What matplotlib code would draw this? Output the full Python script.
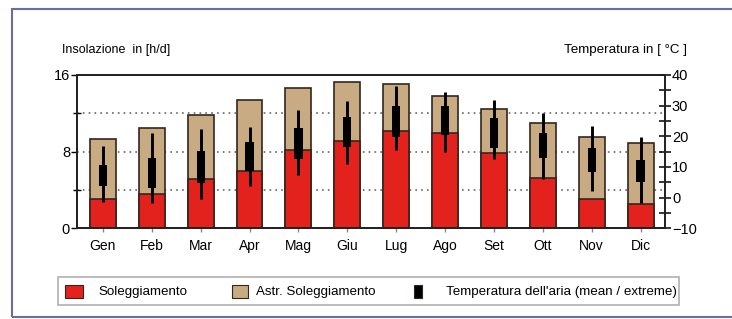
import matplotlib
matplotlib.use("Agg")
import matplotlib.pyplot as plt
from matplotlib.patches import Rectangle
import numpy as np

plt.rcParams['font.family'] = ['Liberation Sans', 'DejaVu Sans']

months = ["Gen", "Feb", "Mar", "Apr", "Mag", "Giu", "Lug", "Ago", "Set", "Ott", "Nov", "Dic"]
sun_hours = [3.1, 3.6, 5.1, 6.0, 8.2, 9.1, 10.2, 9.9, 7.9, 5.2, 3.1, 2.5]
astro_hours = [9.3, 10.5, 11.8, 13.4, 14.6, 15.3, 15.1, 13.8, 12.5, 11.0, 9.5, 8.9]
temp_mean_min = [3.8, 3.3, 4.9, 8.8, 12.5, 16.5, 19.7, 20.5, 16.3, 12.8, 8.2, 5.2]
temp_mean_max = [10.5, 12.8, 15.1, 18.3, 22.6, 26.2, 29.8, 29.8, 25.9, 21.2, 16.1, 12.2]
temp_ext_min = [-1.3, -1.8, -0.3, 3.8, 7.4, 11.1, 15.4, 14.8, 12.5, 6.2, 2.2, -1.8]
temp_ext_max = [17.0, 21.0, 22.4, 23.2, 28.6, 31.4, 36.4, 34.3, 31.8, 27.5, 23.3, 19.7]

RED = "#e4221d"
TAN = "#c8ab82"
EDGE = "#33261e"

W, H = 732, 319
fig = plt.figure(figsize=(W / 100, H / 100), dpi=100)
fig.patch.set_facecolor("white")

def fx(px):
    return px / W

def fy(py):
    return 1 - py / H

# outer frame
fig.add_artist(Rectangle((fx(12), fy(317)), fx(740) - fx(12), fy(9) - fy(317),
                         transform=fig.transFigure, fill=False, edgecolor="#6c6ca2", lw=1.5))

ax = fig.add_axes([fx(77), fy(228.3), fx(665) - fx(77), fy(75) - fy(228.3)])
ax2 = ax.twinx()

x = np.arange(len(months))
bw = 0.53
ax.bar(x, astro_hours, width=bw, color=TAN, edgecolor=EDGE, linewidth=1.2, zorder=2)
ax.bar(x, sun_hours, width=bw, color=RED, edgecolor=EDGE, linewidth=1.2, zorder=3)

ax.set_xlim(-0.53, 11.5)
ax.set_ylim(0, 16)
ax.set_yticks([0, 8, 16])
ax.set_yticks([4, 12], minor=True)
ax.tick_params(axis='y', which='major', direction='out', length=4, width=1, labelsize=10.5, pad=1)
ax.tick_params(axis='y', which='minor', direction='inout', length=6, width=1)
ax.set_xticks(x)
ax.set_xticklabels(months)
ax.tick_params(axis='x', direction='out', length=3, width=1, labelsize=10, pad=5, color="#888888")
for yv in [4, 8, 12]:
    ax.axhline(yv, color="#666666", lw=1.2, ls=(0, (1, 2.5)), zorder=1)
for s in ax.spines.values():
    s.set_linewidth(1.3)
    s.set_color("#222222")

ax2.set_ylim(-10, 40)
ax2.set_yticks([-10, 0, 10, 20, 30, 40])
ax2.set_yticks([-5, 5, 15, 25, 35], minor=True)
ax2.tick_params(axis='y', which='major', direction='inout', length=8, width=1.1, labelsize=10.5, pad=1)
ax2.tick_params(axis='y', which='minor', direction='inout', length=8, width=1.1)
for s in ax2.spines.values():
    s.set_linewidth(1.3)
    s.set_color("#222222")

# temperature: extremes as whiskers, means as boxes
ax2.vlines(x, temp_ext_min, temp_ext_max, color="black", lw=2.1, zorder=5)
ax2.bar(x, np.array(temp_mean_max) - np.array(temp_mean_min), bottom=temp_mean_min,
        width=0.17, color="black", zorder=6)

ax.set_zorder(ax2.get_zorder() - 1)
ax2.patch.set_visible(False)

fig.text(fx(62), fy(50), "Insolazione  in [h/d]", fontsize=9, va="center", ha="left")
fig.text(fx(687), fy(50), "Temperatura in [ °C ]", fontsize=9.6, va="center", ha="right")

# legend
fig.add_artist(Rectangle((fx(58), fy(305)), fx(679) - fx(58), fy(277) - fy(305),
                         transform=fig.transFigure, fill=False, edgecolor="#b0b0b0", lw=1.2))
items = [
    (65, 18, RED, "Soleggiamento", 98),
    (232, 16, TAN, "Astr. Soleggiamento", 256),
    (414, 8, "black", "Temperatura dell'aria (mean / extreme)", 446),
]
for x0, wpx, col, label, tx in items:
    fig.add_artist(Rectangle((fx(x0), fy(298)), fx(x0 + wpx) - fx(x0), fy(285) - fy(298),
                             transform=fig.transFigure, facecolor=col, edgecolor=EDGE, lw=0.8))
    fig.text(fx(tx), fy(291.5), label, fontsize=9.6, va="center", ha="left")

fig.savefig("out.png", dpi=100)
